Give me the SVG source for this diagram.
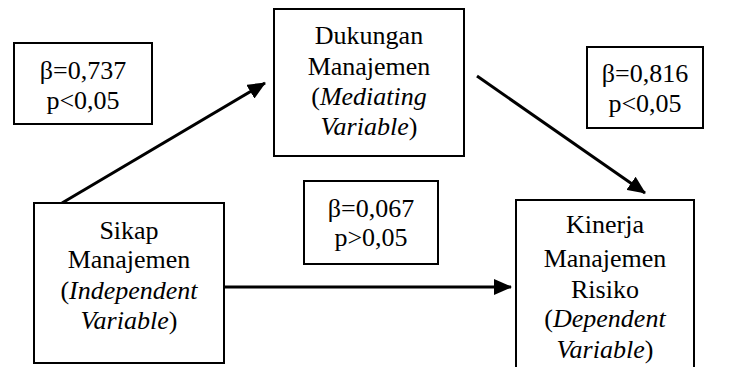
<svg xmlns="http://www.w3.org/2000/svg" width="729" height="367" viewBox="0 0 729 367">
<style>
.box{fill:#fff;stroke:#000;stroke-width:2}
text{font-family:'Liberation Serif','Times New Roman',serif;font-size:26px;fill:#000;text-anchor:middle}
.i{font-style:italic}
.c{stroke:#000;stroke-width:3;fill:none}
</style>
<defs>
<marker id="ah" markerUnits="userSpaceOnUse" markerWidth="18" markerHeight="16" refX="17" refY="8" orient="auto" viewBox="0 0 18 16">
<path d="M0,0 L18,8 L0,16 Z" fill="#000"/>
</marker>
</defs>
<rect width="729" height="367" fill="#fff"/>
<g id="connectors">
<line class="c" x1="62" y1="203" x2="265" y2="83" marker-end="url(#ah)"/>
<line class="c" x1="477" y1="76" x2="645" y2="193" marker-end="url(#ah)"/>
<line class="c" x1="224" y1="287" x2="511" y2="287" marker-end="url(#ah)"/>
</g>
<g id="label-737">
<rect class="box" x="14" y="43" width="138" height="81"/>
<text x="83" y="79">β=0,737</text>
<text x="83" y="109">p&lt;0,05</text>
</g>
<g id="dukungan">
<rect class="box" x="274" y="9" width="190" height="147"/>
<text x="369" y="44">Dukungan</text>
<text x="369" y="75">Manajemen</text>
<text x="369" y="105">(<tspan class="i">Mediating</tspan></text>
<text x="369" y="135"><tspan class="i">Variable</tspan>)</text>
</g>
<g id="label-816">
<rect class="box" x="587" y="47" width="116" height="81"/>
<text x="645" y="82">β=0,816</text>
<text x="645" y="112">p&lt;0,05</text>
</g>
<g id="label-067">
<rect class="box" x="304" y="181" width="134" height="83"/>
<text x="371" y="217">β=0,067</text>
<text x="371" y="246">p&gt;0,05</text>
</g>
<g id="sikap">
<rect class="box" x="34" y="203" width="190" height="160"/>
<text x="129" y="239">Sikap</text>
<text x="129" y="268">Manajemen</text>
<text x="129" y="299">(<tspan class="i">Independent</tspan></text>
<text x="129" y="329"><tspan class="i">Variable</tspan>)</text>
</g>
<g id="kinerja">
<rect class="box" x="516" y="200" width="178" height="180"/>
<text x="605" y="233">Kinerja</text>
<text x="605" y="267">Manajemen</text>
<text x="605" y="298">Risiko</text>
<text x="605" y="327">(<tspan class="i">Dependent</tspan></text>
<text x="605" y="358"><tspan class="i">Variable</tspan>)</text>
</g>
</svg>
